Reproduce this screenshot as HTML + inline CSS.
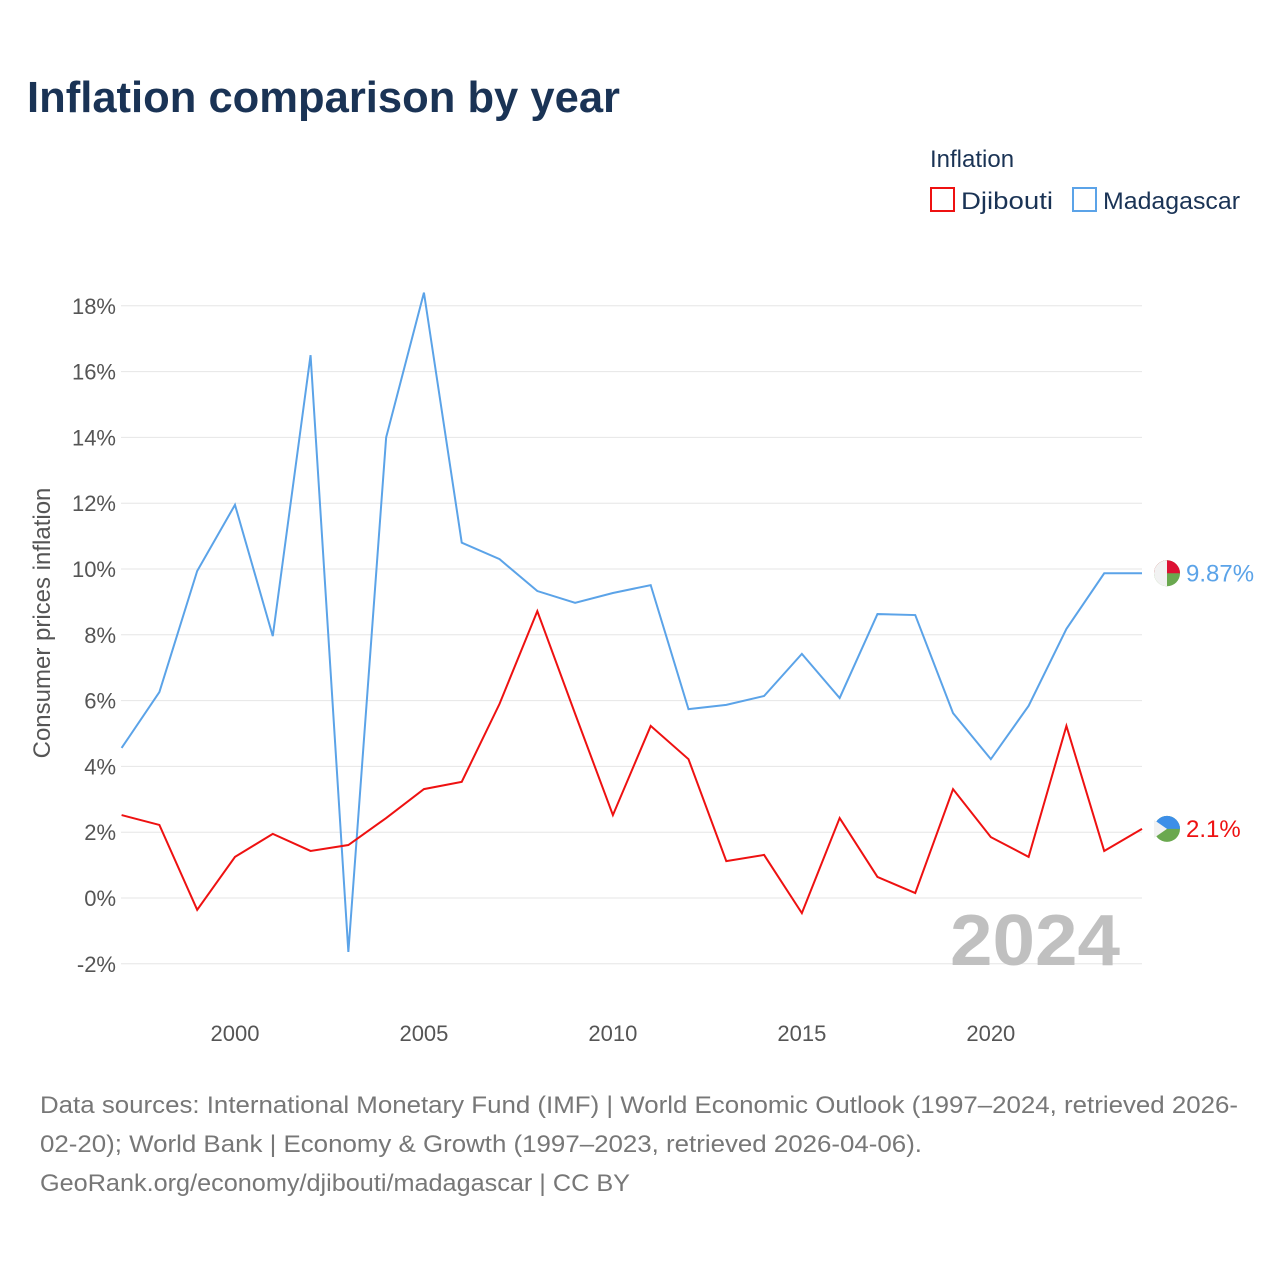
<!DOCTYPE html>
<html><head><meta charset="utf-8">
<style>
body{margin:0;width:1280px;height:1280px;background:#fff;font-family:"Liberation Sans",sans-serif;overflow:hidden}
svg text{font-family:"Liberation Sans",sans-serif}
</style></head><body>
<svg id="chart" width="1280" height="1280">
<text x="27" y="112" font-size="44" font-weight="bold" fill="#1a3355" textLength="593" lengthAdjust="spacingAndGlyphs">Inflation comparison by year</text>
<text x="930" y="167" font-size="24" fill="#1a3355">Inflation</text>
<g><rect x="931" y="188" width="23" height="23" fill="none" stroke="#ee1111" stroke-width="2"/><text x="961" y="209" font-size="24" fill="#1a3355" textLength="92" lengthAdjust="spacingAndGlyphs">Djibouti</text></g>
<g><rect x="1073" y="188" width="23" height="23" fill="none" stroke="#5ba3e8" stroke-width="2"/><text x="1103" y="209" font-size="24" fill="#1a3355" textLength="137" lengthAdjust="spacingAndGlyphs">Madagascar</text></g>
<g id="grid"></g><g id="yticks"></g><g id="xticks"></g>
<text x="1120" y="965" font-size="72" font-weight="bold" fill="#c0c0c0" text-anchor="end" textLength="170" lengthAdjust="spacingAndGlyphs">2024</text>
<text transform="translate(50,623) rotate(-90)" font-size="24" fill="#555" text-anchor="middle">Consumer prices inflation</text>
<g id="series"></g>
<text x="40" y="1113" font-size="24" fill="#777" textLength="1198" lengthAdjust="spacingAndGlyphs">Data sources: International Monetary Fund (IMF) | World Economic Outlook (1997–2024, retrieved 2026-</text>
<text x="40" y="1152" font-size="24" fill="#777" textLength="882" lengthAdjust="spacingAndGlyphs">02-20); World Bank | Economy &amp; Growth (1997–2023, retrieved 2026-04-06).</text>
<text x="40" y="1191" font-size="24" fill="#777" textLength="590" lengthAdjust="spacingAndGlyphs">GeoRank.org/economy/djibouti/madagascar | CC BY</text>
</svg>
<script>
const years=[1997,1998,1999,2000,2001,2002,2003,2004,2005,2006,2007,2008,2009,2010,2011,2012,2013,2014,2015,2016,2017,2018,2019,2020,2021,2022,2023,2024];
const madagascar=[4.56,6.26,9.94,11.95,7.96,16.5,-1.64,14.0,18.4,10.8,10.3,9.33,8.97,9.27,9.51,5.74,5.87,6.14,7.42,6.08,8.63,8.6,5.62,4.22,5.84,8.18,9.87,9.87];
const djibouti=[2.52,2.22,-0.36,1.25,1.95,1.43,1.61,2.43,3.31,3.53,5.9,8.72,5.6,2.52,5.23,4.22,1.12,1.31,-0.46,2.43,0.64,0.15,3.31,1.85,1.25,5.23,1.43,2.1];
const yTicks=[-2,0,2,4,6,8,10,12,14,16,18];
const xTicks=[2000,2005,2010,2015,2020];
const NS="http://www.w3.org/2000/svg";
const X=v=>121.6+(v-1997)*(1142-121.6)/27;
const Y=v=>898-v*32.9;
function mk(tag,attrs,parent){const e=document.createElementNS(NS,tag);for(const k in attrs)e.setAttribute(k,attrs[k]);document.getElementById(parent).appendChild(e);return e;}
yTicks.forEach(t=>{
 const l=mk('line',{x1:121,x2:1142,y1:Y(t),y2:Y(t),stroke:'#e6e6e6','stroke-width':1},'grid');
 
 
 const tx=mk('text',{x:116,y:Y(t)+8,'font-size':22,fill:'#555','text-anchor':'end'},'yticks');
 tx.textContent=t+'%';
 
 
});
xTicks.forEach(t=>{
 const tx=mk('text',{x:X(t),y:1041,'font-size':22,fill:'#555','text-anchor':'middle'},'xticks');
 tx.textContent=t;
 
 
});
function line(vals,color,name,label){
 const p=mk('polyline',{points:vals.map((v,i)=>X(years[i])+','+Y(v)).join(' '),fill:'none',stroke:color,'stroke-width':2},'series');
 
 
 const last=vals[vals.length-1];
 const c=mk('circle',{cx:1167,cy:Y(last),r:13,fill:'#6aa84f'},'series');
 
 
 const top=mk('path',{d:`M1167 ${Y(last)-13} A13 13 0 0 1 1180 ${Y(last)} L1154 ${Y(last)} A13 13 0 0 1 1167 ${Y(last)-13}Z`,fill:name==='madagascar'?'#dd1133':'#3d8fe8'},'series');
 
 
 const w=mk('path',{d:name==='madagascar'?`M1167 ${Y(last)-13} L1167 ${Y(last)+13} A13 13 0 0 1 1167 ${Y(last)-13}Z`:`M1154 ${Y(last)-9} L1167 ${Y(last)} L1154 ${Y(last)+9}Z`,fill:'#f2f2f2'},'series');
 
 
 const t=mk('text',{x:1186,y:Y(last)+8,'font-size':24,fill:color},'series');
 t.textContent=label;
 
 
}
line(madagascar,'#5ba3e8','madagascar','9.87%');
line(djibouti,'#ee1111','djibouti','2.1%');
</script>
</body></html>
